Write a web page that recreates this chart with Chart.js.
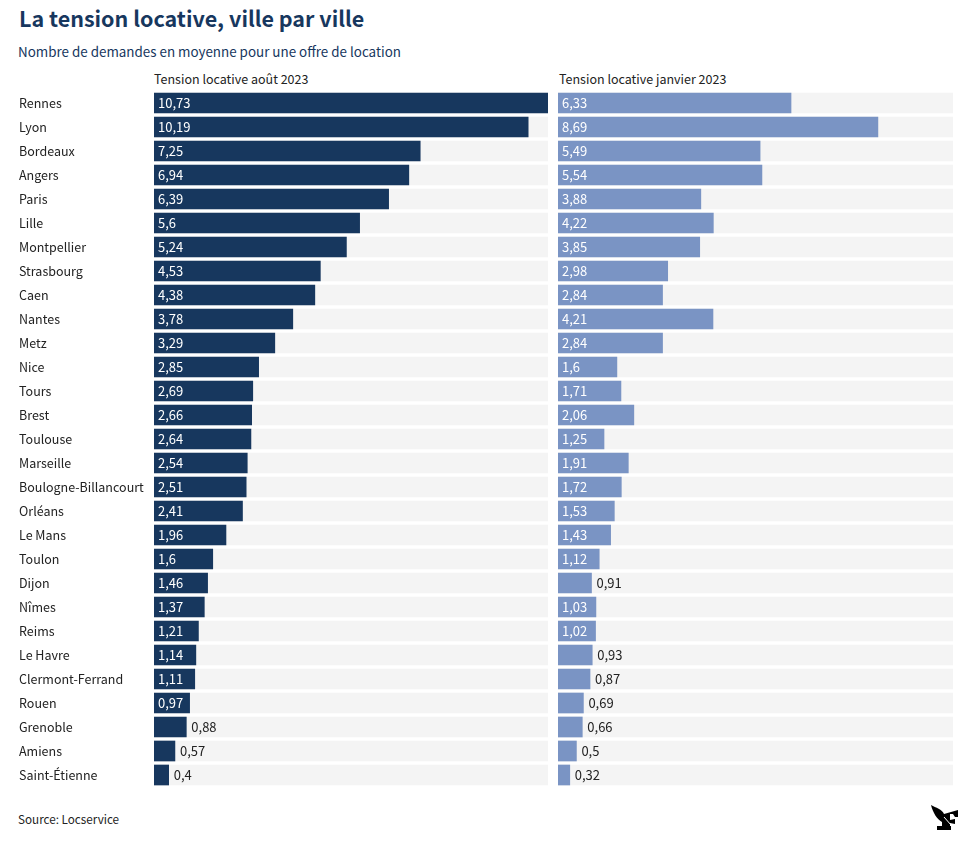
<!DOCTYPE html>
<html lang="fr">
<head>
  <meta charset="UTF-8" />
  <title>La tension locative, ville par ville</title>
  <script src="https://cdn.jsdelivr.net/npm/chart.js"></script>
  <style>
    body {
      margin: 0;
      background: #fff;
      font-family: "Noto Sans CJK JP", "Noto Sans", sans-serif;
      width: 972px;
      height: 847px;
      position: relative;
      overflow: hidden;
    }
    .txt { position: absolute; white-space: nowrap; line-height: 1; }
    #title { left: 19px; top: 7px; font-size: 21.5px; font-weight: 700; color: #17375e; }
    #subtitle { left: 18px; top: 45px; font-size: 13.4px; color: #17375e; }
    .head { top: 73px; font-size: 12.5px; color: #222; }
    #source { left: 18px; top: 813px; font-size: 11.7px; color: #222; }
    .wrap { position: absolute; top: 91px; height: 696px; }
    #logo { position: absolute; left: 931px; top: 805px; }
  </style>
</head>
<body>
  <div class="txt" id="title">La tension locative, ville par ville</div>
  <div class="txt" id="subtitle">Nombre de demandes en moyenne pour une offre de location</div>
  <div class="txt head" style="left:154px">Tension locative août 2023</div>
  <div class="txt head" style="left:559px">Tension locative janvier 2023</div>
  <div class="wrap" style="left:19px;width:529px"><canvas id="chartAout"></canvas></div>
  <div class="wrap" style="left:558px;width:395px"><canvas id="chartJanvier"></canvas></div>
  <div class="txt" id="source">Source: Locservice</div>
  <svg id="logo" width="28" height="26" viewBox="0 0 28 26">
    <path d="M0 0 C5 3 11 4 13 9 L27 5 L27 12 L24 12 L22 9 L19 9 L19 15 L24 14 L24 19 L19 18 L19 21 L20 21 L20 25 L6 25 L6 21 L11 21 L11 17 C6 14 2 8 0 0 Z" fill="#000" />
    <path d="M13 12 L20 20 L27 26" stroke="#fff" stroke-width="1" fill="none" />
  </svg>

  <script>
    const villes = ['Rennes', 'Lyon', 'Bordeaux', 'Angers', 'Paris', 'Lille', 'Montpellier', 'Strasbourg', 'Caen', 'Nantes', 'Metz', 'Nice', 'Tours', 'Brest', 'Toulouse', 'Marseille', 'Boulogne-Billancourt', 'Orléans', 'Le Mans', 'Toulon', 'Dijon', 'Nîmes', 'Reims', 'Le Havre', 'Clermont-Ferrand', 'Rouen', 'Grenoble', 'Amiens', 'Saint-Étienne'];
    const aout2023 = [10.73, 10.19, 7.25, 6.94, 6.39, 5.6, 5.24, 4.53, 4.38, 3.78, 3.29, 2.85, 2.69, 2.66, 2.64, 2.54, 2.51, 2.41, 1.96, 1.6, 1.46, 1.37, 1.21, 1.14, 1.11, 0.97, 0.88, 0.57, 0.4];
    const janvier2023 = [6.33, 8.69, 5.49, 5.54, 3.88, 4.22, 3.85, 2.98, 2.84, 4.21, 2.84, 1.6, 1.71, 2.06, 1.25, 1.91, 1.72, 1.53, 1.43, 1.12, 0.91, 1.03, 1.02, 0.93, 0.87, 0.69, 0.66, 0.5, 0.32];
    const axeMax = 10.73;

    const police = '"Noto Sans CJK JP", "Noto Sans", sans-serif';

    // valeurs dans la barre en blanc, ou à côté en noir si la barre est trop courte
    const etiquettes = {
      id: 'etiquettes',
      afterDatasetsDraw(chart) {
        const c = chart.ctx;
        const meta = chart.getDatasetMeta(0);
        const vals = chart.data.datasets[0].data;
        c.save();
        c.font = '13px ' + police;
        c.textBaseline = 'middle';
        meta.data.forEach((bar, i) => {
          const dedans = vals[i] >= 0.95;
          c.fillStyle = dedans ? '#fff' : '#222';
          const x = dedans ? bar.base + 4 : bar.x + 5;
          c.fillText(String(vals[i]).replace('.', ','), x, bar.y);
        });
        c.restore();
      }
    };

    function makeChart(id, values, color, showCities) {
      return new Chart(document.getElementById(id), {
        type: 'bar',
        data: {
          labels: villes,
          datasets: [
            { data: values, backgroundColor: color, barThickness: 20, grouped: false },
            { data: villes.map(() => axeMax), backgroundColor: '#f4f4f4', barThickness: 20, grouped: false }
          ]
        },
        options: {
          indexAxis: 'y',
          responsive: true,
          maintainAspectRatio: false,
          animation: false,
          layout: { padding: 0 },
          plugins: { legend: { display: false }, tooltip: { enabled: false } },
          scales: {
            x: { display: false, min: 0, max: axeMax },
            y: {
              display: showCities,
              grid: { display: false },
              border: { display: false },
              afterFit(axis) {
                if (showCities) axis.width = 135;
                // sinon les libellés réduisent la zone du graphique
                axis.paddingTop = 0;
                axis.paddingBottom = 0;
              },
              ticks: {
                autoSkip: false,
                crossAlign: 'far',
                padding: 0,
                color: '#222',
                font: { family: police, size: 12.5 }
              }
            }
          }
        },
        plugins: [etiquettes]
      });
    }

    makeChart('chartAout', aout2023, '#17375e', true);
    makeChart('chartJanvier', janvier2023, '#7a94c4', false);
  </script>
</body>
</html>
